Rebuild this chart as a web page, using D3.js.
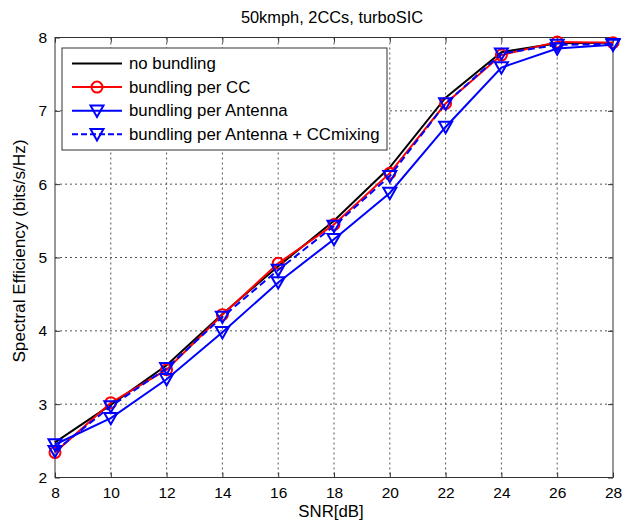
<!DOCTYPE html>
<html><head><meta charset="utf-8">
<script src="https://cdn.jsdelivr.net/npm/d3@7"></script>
<style>body{margin:0;background:#fff}svg{display:block}text{font-family:Arial,"Liberation Sans",sans-serif}</style>
</head><body>
<svg id="c" width="632" height="527"></svg>
<script>
const snr = [8,10,12,14,16,18,20,22,24,26,28];
const noBundling = [2.48,2.99,3.53,4.23,4.88,5.50,6.23,7.18,7.80,7.92,7.93];
const perCC = [2.34,3.02,3.47,4.22,4.92,5.45,6.15,7.10,7.76,7.94,7.93];
const perAntenna = [2.45,2.81,3.34,3.98,4.66,5.25,5.88,6.78,7.59,7.85,7.90];
const perAntennaMix = [2.36,2.97,3.49,4.19,4.83,5.43,6.11,7.10,7.78,7.90,7.91];
const xTicks = [8,10,12,14,16,18,20,22,24,26,28];
const yTicks = [2,3,4,5,6,7,8];
const labels = ["no bundling","bundling per CC","bundling per Antenna","bundling per Antenna + CCmixing"];

const svg = d3.select("#c");
const L=55,R=613,T=37.5,B=477.5;
const x = d3.scaleLinear().domain([8,28]).range([L,R]);
const y = d3.scaleLinear().domain([2,8]).range([B,T]);

// grid
const g = svg.append("g");
xTicks.slice(1,-1).forEach(v=>g.append("line").attr("x1",x(v)).attr("x2",x(v)).attr("y1",T).attr("y2",B)
  .attr("stroke","#555").attr("stroke-width",1).attr("stroke-dasharray","2,3"));
yTicks.slice(1,-1).forEach(v=>g.append("line").attr("x1",L).attr("x2",R).attr("y1",y(v)).attr("y2",y(v))
  .attr("stroke","#555").attr("stroke-width",1).attr("stroke-dasharray","2,3"));

// axes
const ax = d3.axisBottom(x).tickValues(xTicks).tickSize(-5).tickPadding(9).tickFormat(d3.format("d"));
const ay = d3.axisLeft(y).tickValues(yTicks).tickSize(-5).tickPadding(8).tickFormat(d3.format("d"));
const axT = d3.axisTop(x).tickValues(xTicks).tickSize(-5).tickFormat("");
const ayR = d3.axisRight(y).tickValues(yTicks).tickSize(-5).tickFormat("");
function style(sel){sel.select(".domain").remove();sel.selectAll("line").attr("stroke","#333");
  sel.selectAll("text").attr("font-size",15.5).attr("fill","#000");}
svg.append("g").attr("transform",`translate(0,${B})`).call(ax).call(style);
svg.append("g").attr("transform",`translate(${L},0)`).call(ay).call(style);
svg.append("g").attr("transform",`translate(0,${T})`).call(axT).call(style);
svg.append("g").attr("transform",`translate(${R},0)`).call(ayR).call(style);
svg.append("rect").attr("x",L).attr("y",T).attr("width",R-L).attr("height",B-T)
  .attr("fill","none").attr("stroke","#333").attr("stroke-width",1);

const series = [
  {v:noBundling,c:"#000",dash:null,m:null},
  {v:perCC,c:"#ff0000",dash:null,m:"o"},
  {v:perAntenna,c:"#0000ff",dash:null,m:"v"},
  {v:perAntennaMix,c:"#0000ff",dash:"7,4",m:"v"}
];
const line = d3.line().x((d,i)=>x(snr[i])).y(d=>y(d));
const tri = (cx,cy,s)=>`M${cx-s},${cy-s*0.8}L${cx+s},${cy-s*0.8}L${cx},${cy+s*0.95}Z`;
function marker(sel,m,c,cx,cy){
  if(m==="o") sel.append("circle").attr("cx",cx).attr("cy",cy).attr("r",5.5).attr("fill","none").attr("stroke",c).attr("stroke-width",2);
  if(m==="v") sel.append("path").attr("d",tri(cx,cy,6.5)).attr("fill","none").attr("stroke",c).attr("stroke-width",2);
}
series.forEach(s=>{
  const gg = svg.append("g");
  gg.append("path").attr("d",line(s.v)).attr("fill","none").attr("stroke",s.c).attr("stroke-width",2)
    .attr("stroke-dasharray",s.dash);
  s.v.forEach((d,i)=>marker(gg,s.m,s.c,x(snr[i]),y(d)));
});

// legend
const lg = svg.append("g");
lg.append("rect").attr("x",62).attr("y",48).attr("width",325).attr("height",102).attr("fill","#fff").attr("stroke","#333");
labels.forEach((t,i)=>{
  const yy = 63.5 + i*23.6, s=series[i];
  lg.append("line").attr("x1",72).attr("x2",122).attr("y1",yy).attr("y2",yy).attr("stroke",s.c).attr("stroke-width",2).attr("stroke-dasharray",s.dash?"6,3":null);
  marker(lg,s.m,s.c,97,yy);
  lg.append("text").attr("x",129).attr("y",yy+5.5).attr("font-size",16.8).text(t);
});

// titles
svg.append("text").attr("x",332).attr("y",23).attr("text-anchor","middle").attr("font-size",16.4).text("50kmph, 2CCs, turboSIC");
svg.append("text").attr("x",331).attr("y",517).attr("text-anchor","middle").attr("font-size",16.8).text("SNR[dB]");
svg.append("text").attr("transform",`translate(25,251) rotate(-90)`).attr("text-anchor","middle").attr("font-size",17.2).text("Spectral Efficiency (bits/s/Hz)");
</script>
</body></html>
